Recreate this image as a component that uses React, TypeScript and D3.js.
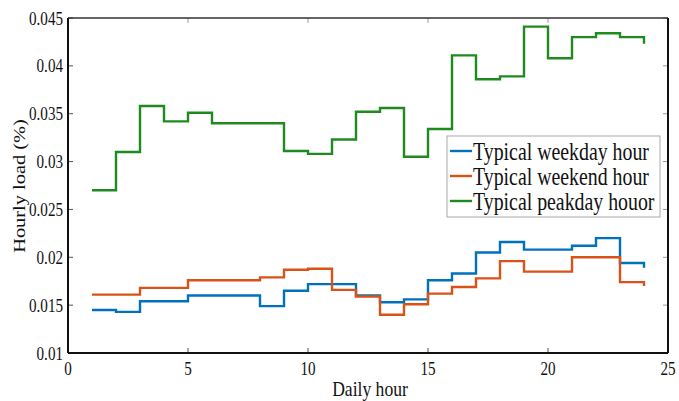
import React from "react";
import * as d3 from "d3";

const hours = d3.range(1, 25);
const weekday = [0.0145, 0.0143, 0.0154, 0.0154, 0.016, 0.016, 0.016, 0.0149, 0.0165, 0.0172, 0.0172, 0.016, 0.0153, 0.0156, 0.0176, 0.0183, 0.0205, 0.0216, 0.0208, 0.0208, 0.0212, 0.022, 0.0194, 0.0189];
const weekend = [0.0161, 0.0161, 0.0168, 0.0168, 0.0176, 0.0176, 0.0176, 0.0179, 0.0187, 0.0188, 0.0166, 0.0159, 0.014, 0.0151, 0.0162, 0.0169, 0.0178, 0.0196, 0.0185, 0.0185, 0.02, 0.02, 0.0174, 0.017];
const peakday = [0.027, 0.031, 0.0358, 0.0342, 0.0351, 0.034, 0.034, 0.034, 0.0311, 0.0308, 0.0323, 0.0352, 0.0356, 0.0305, 0.0334, 0.0411, 0.0386, 0.0389, 0.0441, 0.0408, 0.043, 0.0434, 0.043, 0.0423];
const seriesNames = ["Typical weekday hour", "Typical weekend hour", "Typical peakday houor"];
const seriesColors = ["#0072BD", "#D95319", "#1F8A1F"];
const xTicks = [0, 5, 10, 15, 20, 25];
const yTicks = [0.01, 0.015, 0.02, 0.025, 0.03, 0.035, 0.04, 0.045];

export default function App() {
  const W = 679, H = 401;
  const L = 68, R = 668, T = 18, B = 353;
  const x = d3.scaleLinear().domain([0, 25]).range([L, R]);
  const y = d3.scaleLinear().domain([0.01, 0.045]).range([B, T]);
  const line = d3.line<number>().x((_, i) => x(hours[i])).y((d) => y(d)).curve(d3.curveStepAfter);
  const all = [weekday, weekend, peakday];
  const font = "'Liberation Serif', 'Times New Roman', serif";
  const lx = 447, ly = 136, lw = 213, lh = 81;
  const sx = 0.84;
  return (
    <svg width={W} height={H} style={{ position: "absolute", left: 0, top: 0, background: "#fff" }} fontFamily={font}>
      <rect x={0} y={0} width={W} height={H} fill="#fff" />
      {all.map((s, i) => (
        <path key={i} d={line(s) || ""} fill="none" stroke={seriesColors[i]} strokeWidth={2.4} />
      ))}
      {xTicks.map((t) => (
        <g key={"x" + t}>
          <line x1={x(t)} x2={x(t)} y1={B} y2={B - 5} stroke="#555" strokeWidth={1} />
          <line x1={x(t)} x2={x(t)} y1={T} y2={T + 5} stroke="#999" strokeWidth={1} />
          <text transform={`translate(${x(t)},${B + 22}) scale(${sx},1)`} fontSize={18} textAnchor="middle" fill="#111">{t}</text>
        </g>
      ))}
      {yTicks.map((t) => (
        <g key={"y" + t}>
          <line x1={L} x2={L + 5} y1={y(t)} y2={y(t)} stroke="#555" strokeWidth={1} />
          <line x1={R} x2={R - 5} y1={y(t)} y2={y(t)} stroke="#999" strokeWidth={1} />
          <text transform={`translate(${L - 5},${y(t) + 6.5}) scale(${sx},1)`} fontSize={18} textAnchor="end" fill="#111">{String(+t.toFixed(3))}</text>
        </g>
      ))}
      <line x1={L} x2={R} y1={T} y2={T} stroke="#333" strokeWidth={1.5} />
      <line x1={R} x2={R} y1={T} y2={B} stroke="#111" strokeWidth={2} />
      <line x1={L} x2={L} y1={T} y2={B} stroke="#111" strokeWidth={2} />
      <line x1={L} x2={R} y1={B} y2={B} stroke="#111" strokeWidth={2} />
      <text transform={`translate(${(L + R) / 2 + 2},396) scale(0.88,1)`} fontSize={20} textAnchor="middle" fill="#111">Daily hour</text>
      <text transform={`translate(25,186) scale(0.86,1) rotate(-90)`} fontSize={20.4} textAnchor="middle" fill="#111">Hourly load (%)</text>
      <rect x={lx} y={ly} width={lw} height={lh} fill="#fff" stroke="#aaa" strokeWidth={1} />
      {seriesNames.map((n, i) => (
        <g key={n}>
          <line x1={lx + 3} x2={lx + 25} y1={ly + 15 + i * 25} y2={ly + 15 + i * 25} stroke={seriesColors[i]} strokeWidth={2.4} />
          <text transform={`translate(${lx + 26},${ly + 24 + i * 25}) scale(0.81,1)`} fontSize={24.5} fill="#111">{n}</text>
        </g>
      ))}
    </svg>
  );
}
